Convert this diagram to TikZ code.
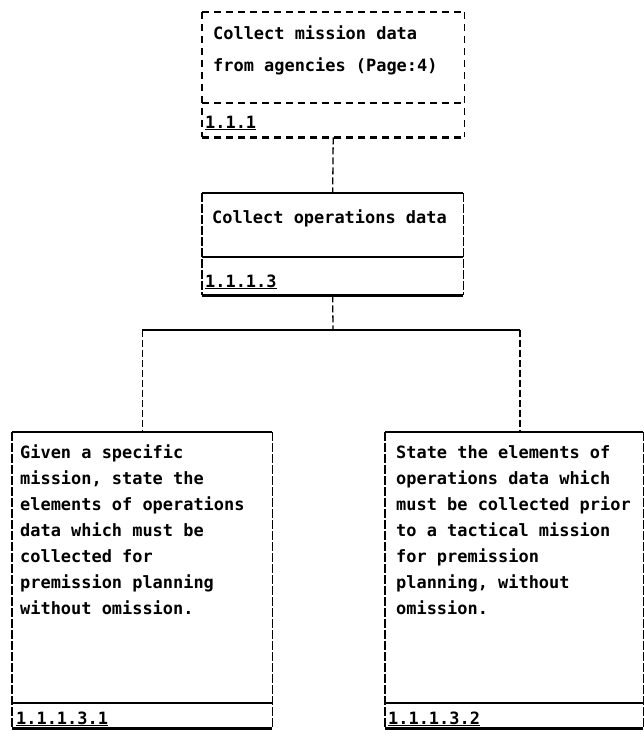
\documentclass[tikz,border=0pt]{standalone}
\usepackage{fontspec}
\setmonofont{DejaVu Sans Mono}
\begin{document}
\begin{tikzpicture}[x=1bp,y=-1bp,
  txt/.style={anchor=base west, inner sep=0pt, font=\ttfamily\bfseries\fontsize{17}{26}\selectfont, align=left},
  frame/.style={anchor=north west, inner sep=0pt, draw=none},
  hl/.style={line width=2.2bp},
  dh/.style={line width=2.4bp, dash pattern=on 7bp off 5bp},
  dv/.style={line width=1.3bp, dash pattern=on 7bp off 5bp},
  vl/.style={line width=1.3bp, dash pattern=on 9bp off 2bp},
  conn/.style={line width=1.3bp, dash pattern=on 7bp off 3bp},
  hconn/.style={line width=1.8bp}
]
\useasboundingbox (0,0) rectangle (644,738);
% top (dashed) box
\node[frame, minimum width=262bp, minimum height=125bp] (mission) at (202,12) {};
\draw[dh] (mission.north west) -- (mission.north east);
\draw[dh] (mission.south west) -- (mission.south east);
\draw[dh] ([yshift=-91bp]mission.north west) -- ([yshift=-91bp]mission.north east);
\draw[dv] (mission.north west) -- (mission.south west);
\draw[dv] (mission.north east) -- (mission.south east);
\node[txt] (missiontxt) at (213,72) {Collect mission data\\[7bp]from agencies (Page:4)};
\node[txt] (missionid) at (205,128) {\underline{1.1.1}};
% operations box
\node[frame, minimum width=261bp, minimum height=102bp] (ops) at (202,193) {};
\draw[hl] (ops.north west) -- (ops.north east);
\draw[hl] (ops.south west) -- (ops.south east);
\draw[hl] ([yshift=-64bp]ops.north west) -- ([yshift=-64bp]ops.north east);
\draw[vl] (ops.north west) -- (ops.south west);
\draw[vl] (ops.north east) -- (ops.south east);
\node[txt] (opstxt) at (212,223) {Collect operations data};
\node[txt] (opsid) at (205,287) {\underline{1.1.1.3}};
% left box
\node[frame, minimum width=260bp, minimum height=296bp] (left) at (12,432) {};
\draw[hl] (left.north west) -- (left.north east);
\draw[hl] (left.south west) -- (left.south east);
\draw[hl] ([yshift=-271bp]left.north west) -- ([yshift=-271bp]left.north east);
\draw[vl] (left.north west) -- (left.south west);
\draw[vl] (left.north east) -- (left.south east);
\node[txt] (lefttxt) at (20,614) {Given a specific\\mission, state the\\elements of operations\\data which must be\\collected for\\premission planning\\without omission.};
\node[txt] (leftid) at (16,724) {\underline{1.1.1.3.1}};
% right box
\node[frame, minimum width=258bp, minimum height=296bp] (right) at (385,432) {};
\draw[hl] (right.north west) -- (right.north east);
\draw[hl] (right.south west) -- (right.south east);
\draw[hl] ([yshift=-271bp]right.north west) -- ([yshift=-271bp]right.north east);
\draw[vl] (right.north west) -- (right.south west);
\draw[vl] (right.north east) -- (right.south east);
\node[txt] (righttxt) at (396,614) {State the elements of\\operations data which\\must be collected prior\\to a tactical mission\\for premission\\planning, without\\omission.};
\node[txt] (rightid) at (388,724) {\underline{1.1.1.3.2}};
% connectors
\coordinate (junc) at (333,330);
\coordinate (rtop) at (520,432);
\draw[conn] (mission.south) -- (ops.north);
\draw[conn] (ops.south) -- (junc);
\draw[hconn] (left.north |- junc) -- (rtop |- junc);
\draw[conn] (left.north |- junc) -- (left.north);
\draw[conn] (rtop |- junc) -- (rtop);
\end{tikzpicture}
\end{document}
